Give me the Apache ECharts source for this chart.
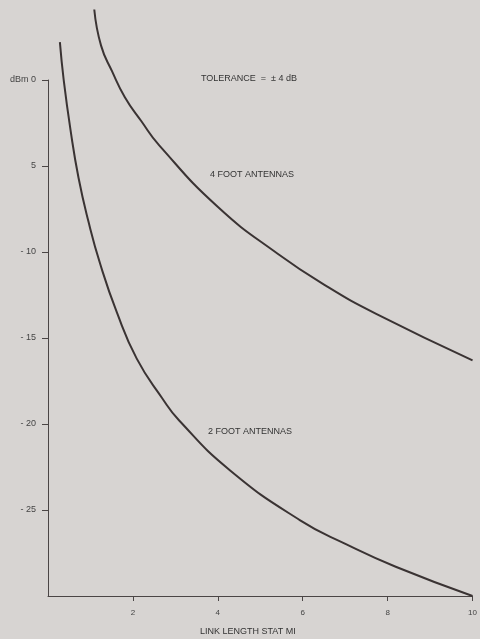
<!DOCTYPE html>
<html>
<head>
    <meta charset="UTF-8">
    <title>Link length vs level</title>
    <script src="https://cdn.jsdelivr.net/npm/echarts@6/dist/echarts.min.js"></script>
    <style>
        html, body { margin: 0; padding: 0; background: #d7d4d2; }
        #chart { width: 480px; height: 639px; }
    </style>
</head>
<body>
    <div id="chart"></div>
    <script>
        // values: [link length (stat mi), level (dBm)]
        var twoFoot = [
            [0.28, 2.2], [0.37, 0.0], [0.53, -2.9], [0.72, -5.7], [0.95, -8.2],
            [1.23, -10.7], [1.62, -13.5], [2.09, -16.2], [2.69, -18.5], [3.09, -19.8],
            [4.29, -22.7], [5.94, -25.6], [7.03, -27.0], [8.19, -28.3], [10, -30]
        ];
        var fourFoot = [
            [1.09, 4.1], [1.25, 2.0], [1.51, 0.5], [1.81, -1.0], [2.2, -2.4],
            [2.62, -3.8], [4.01, -7.4], [5.41, -10.1], [6.57, -12.0], [7.73, -13.6],
            [10, -16.3]
        ];
        var xTicks = [2, 4, 6, 8, 10];
        var yTicks = [0, -5, -10, -15, -20, -25];
        var yTickText = ['dBm 0', '5', '- 10', '- 15', '- 20', '- 25'];

        var font = 'Liberation Sans';
        var ink = '#3a3333';

        function note(text, x, y) {
            return {
                type: 'text', x: x, y: y,
                style: { text: text, font: '9px ' + font, fill: '#333', verticalAlign: 'middle' }
            };
        }

        var chart = echarts.init(document.getElementById('chart'));
        var option = {
            backgroundColor: '#d7d4d2',
            animation: false,
            grid: { left: 48, right: 2, top: 80, bottom: 43 },
            xAxis: {
                type: 'value', min: 0, max: 10,
                splitLine: { show: false },
                axisLine: { onZero: false, lineStyle: { color: '#4a4545', width: 1 } },
                axisTick: { customValues: xTicks, length: 5, lineStyle: { color: '#4a4545' } },
                axisLabel: {
                    customValues: xTicks, margin: 13,
                    fontFamily: font, fontSize: 8, color: '#444'
                }
            },
            yAxis: {
                type: 'value', min: -30, max: 0,
                splitLine: { show: false },
                axisLine: { show: true, onZero: false, lineStyle: { color: '#4a4545', width: 1 } },
                axisTick: { show: true, customValues: yTicks, length: 6, lineStyle: { color: '#4a4545' } },
                axisLabel: {
                    customValues: yTicks, margin: 12,
                    fontFamily: font, fontSize: 9, color: '#444',
                    formatter: function (v) {
                        var i = yTicks.indexOf(v);
                        return i >= 0 ? yTickText[i] : '';
                    }
                }
            },
            series: [
                {
                    name: '2 FOOT ANTENNAS', type: 'line', data: twoFoot,
                    smooth: 0.5, showSymbol: false, clip: false,
                    lineStyle: { color: ink, width: 2 }
                },
                {
                    name: '4 FOOT ANTENNAS', type: 'line', data: fourFoot,
                    smooth: 0.5, showSymbol: false, clip: false,
                    lineStyle: { color: ink, width: 2 }
                }
            ],
            graphic: [
                note('TOLERANCE  =  \u00b1 4 dB', 201, 79),
                note('4 FOOT ANTENNAS', 210, 175),
                note('2 FOOT ANTENNAS', 208, 432),
                note('LINK LENGTH STAT MI', 200, 632)
            ]
        };
        chart.setOption(option);
    </script>
</body>
</html>
